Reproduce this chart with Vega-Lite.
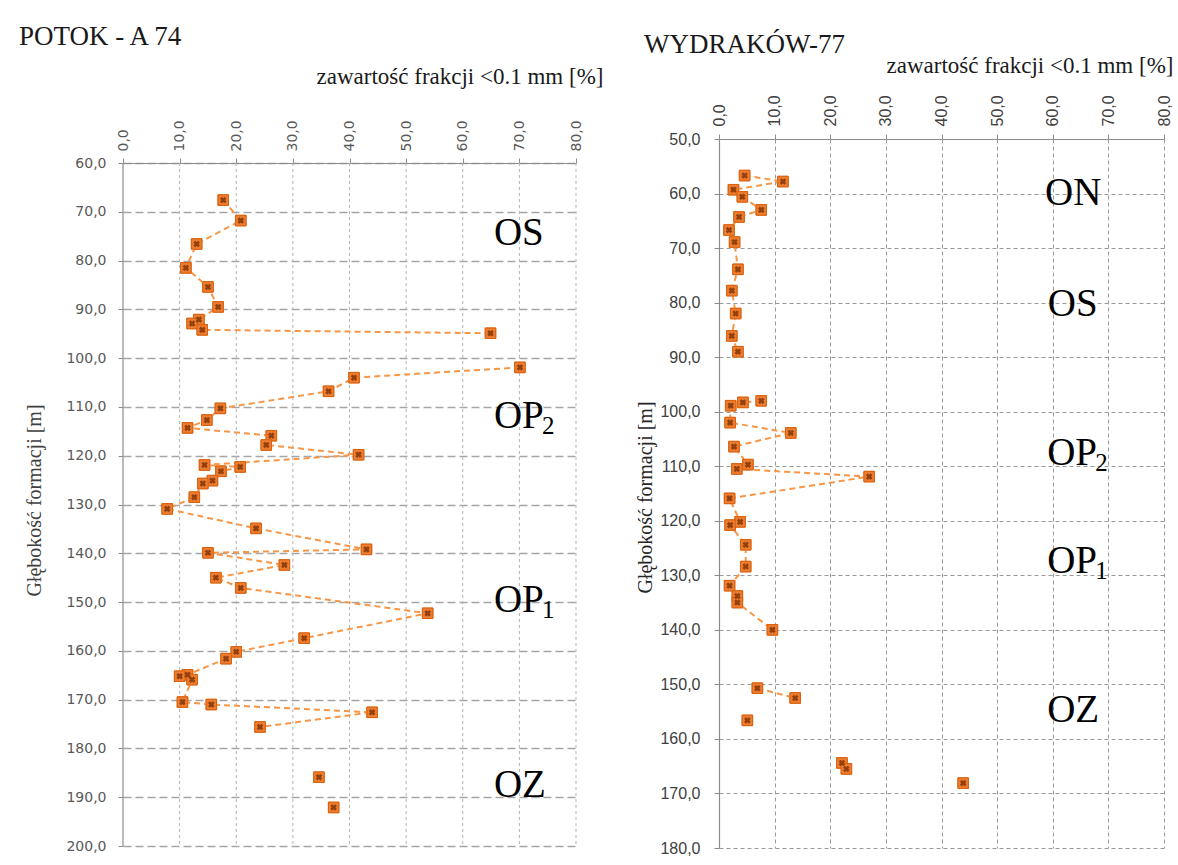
{
  "$schema": "https://vega.github.io/schema/vega-lite/v6.json",
  "background": "white",
  "padding": {"left": 18, "top": 23, "right": 0, "bottom": 0},
  "spacing": 32,
  "config": {
    "view": {"stroke": null},
    "title": {"font": "Liberation Serif", "fontSize": 27, "fontWeight": "normal", "color": "#1a1a1a", "anchor": "start"}
  },
  "datasets": {
    "L": [
      {"x": 17.7, "d": 67.6, "s": "A"}, {"x": 20.8, "d": 71.8, "s": "A"}, {"x": 13.0, "d": 76.6, "s": "A"},
      {"x": 11.1, "d": 81.5, "s": "A"}, {"x": 15.0, "d": 85.4, "s": "A"}, {"x": 16.8, "d": 89.5, "s": "A"},
      {"x": 13.4, "d": 92.1, "s": "A"}, {"x": 12.2, "d": 92.9, "s": "A"}, {"x": 14.0, "d": 94.2, "s": "A"},
      {"x": 64.9, "d": 94.9, "s": "A"},
      {"x": 70.1, "d": 101.9, "s": "B"}, {"x": 40.8, "d": 104.0, "s": "B"}, {"x": 36.3, "d": 106.8, "s": "B"},
      {"x": 17.2, "d": 110.3, "s": "B"}, {"x": 14.8, "d": 112.7, "s": "B"}, {"x": 11.4, "d": 114.3, "s": "B"},
      {"x": 26.2, "d": 115.9, "s": "B"}, {"x": 25.3, "d": 117.8, "s": "B"}, {"x": 41.6, "d": 119.8, "s": "B"},
      {"x": 14.4, "d": 121.9, "s": "B"}, {"x": 20.7, "d": 122.3, "s": "B"}, {"x": 17.3, "d": 123.2, "s": "B"},
      {"x": 15.8, "d": 125.1, "s": "B"}, {"x": 14.1, "d": 125.7, "s": "B"}, {"x": 12.6, "d": 128.5, "s": "B"},
      {"x": 7.8, "d": 130.9, "s": "B"}, {"x": 23.5, "d": 134.9, "s": "B"}, {"x": 43.0, "d": 139.2, "s": "B"},
      {"x": 15.0, "d": 139.9, "s": "B"}, {"x": 28.5, "d": 142.4, "s": "B"}, {"x": 16.4, "d": 145.0, "s": "B"},
      {"x": 20.8, "d": 147.1, "s": "B"}, {"x": 53.8, "d": 152.3, "s": "B"}, {"x": 32.0, "d": 157.4, "s": "B"},
      {"x": 20.0, "d": 160.2, "s": "B"}, {"x": 18.2, "d": 161.6, "s": "B"}, {"x": 11.4, "d": 164.9, "s": "B"},
      {"x": 10.0, "d": 165.2, "s": "B"}, {"x": 12.2, "d": 165.9, "s": "B"}, {"x": 10.5, "d": 170.5, "s": "B"},
      {"x": 15.6, "d": 171.0, "s": "B"}, {"x": 44.0, "d": 172.6, "s": "B"}, {"x": 24.2, "d": 175.6, "s": "B"},
      {"x": 34.6, "d": 185.9, "s": "C"}, {"x": 37.2, "d": 192.1, "s": "D"}
    ],
    "R": [
      {"x": 4.6, "d": 56.7, "s": "A"}, {"x": 11.5, "d": 57.8, "s": "A"}, {"x": 2.6, "d": 59.3, "s": "A"},
      {"x": 4.2, "d": 60.6, "s": "A"}, {"x": 7.6, "d": 63.0, "s": "A"}, {"x": 3.6, "d": 64.3, "s": "A"},
      {"x": 1.8, "d": 66.7, "s": "A"}, {"x": 2.8, "d": 68.9, "s": "A"}, {"x": 3.4, "d": 73.9, "s": "A"},
      {"x": 2.3, "d": 77.8, "s": "A"}, {"x": 3.0, "d": 82.0, "s": "A"}, {"x": 2.3, "d": 86.1, "s": "A"},
      {"x": 3.4, "d": 89.0, "s": "A"},
      {"x": 7.6, "d": 98.0, "s": "B"}, {"x": 4.3, "d": 98.3, "s": "B"}, {"x": 2.1, "d": 98.9, "s": "B"},
      {"x": 2.0, "d": 102.0, "s": "B"}, {"x": 12.9, "d": 103.9, "s": "B"}, {"x": 2.7, "d": 106.4, "s": "B"},
      {"x": 5.2, "d": 109.7, "s": "B"}, {"x": 3.2, "d": 110.5, "s": "B"}, {"x": 27.0, "d": 111.9, "s": "B"},
      {"x": 1.9, "d": 115.9, "s": "B"}, {"x": 3.8, "d": 120.2, "s": "B"}, {"x": 2.0, "d": 120.8, "s": "B"},
      {"x": 4.8, "d": 124.4, "s": "B"}, {"x": 4.8, "d": 128.4, "s": "B"}, {"x": 1.9, "d": 131.9, "s": "B"},
      {"x": 3.3, "d": 133.8, "s": "B"}, {"x": 3.3, "d": 135.0, "s": "B"}, {"x": 9.6, "d": 140.0, "s": "B"},
      {"x": 6.9, "d": 150.7, "s": "C"}, {"x": 13.7, "d": 152.5, "s": "C"},
      {"x": 5.1, "d": 156.6, "s": "D"}, {"x": 22.1, "d": 164.4, "s": "E"}, {"x": 22.9, "d": 165.5, "s": "F"},
      {"x": 43.9, "d": 168.1, "s": "G"}
    ],
    "labL": [
      {"t": "OS", "sub": "", "x": 65.5, "d": 76.8},
      {"t": "OP", "sub": "2", "x": 65.5, "d": 114.3},
      {"t": "OP", "sub": "1", "x": 65.5, "d": 152.0},
      {"t": "OZ", "sub": "", "x": 65.5, "d": 189.9}
    ],
    "labR": [
      {"t": "ON", "sub": "", "x": 58.6, "d": 62.1},
      {"t": "OS", "sub": "", "x": 59.1, "d": 82.5},
      {"t": "OP", "sub": "2", "x": 59.0, "d": 109.8},
      {"t": "OP", "sub": "1", "x": 59.0, "d": 129.6},
      {"t": "OZ", "sub": "", "x": 59.0, "d": 156.9}
    ],
    "gx": [
      {"x": 10}, {"x": 20}, {"x": 30}, {"x": 40}, {"x": 50}, {"x": 60}, {"x": 70}, {"x": 80}
    ]
  },
  "hconcat": [
    {
      "width": 453,
      "height": 707,
      "title": {"text": "POTOK - A 74", "dx": -6, "dy": -4, "offset": 10},
      "layer": [
        {
          "data": {"name": "L"},
          "mark": {"type": "point", "shape": "square", "filled": true, "size": 110, "color": "#ED7D31", "stroke": "#D9620F", "strokeWidth": 1, "opacity": 1},
          "encoding": {
            "x": {"field": "x", "type": "quantitative", "scale": {"domain": [0, 80], "nice": false},
              "axis": {"orient": "top", "offset": -24, "values": [0, 10, 20, 30, 40, 50, 60, 70, 80], "grid": false,
                "labelExpr": "replace(format(datum.value, '.1f'), '.', ',')",
                "labelAngle": -90, "labelFont": "DejaVu Sans", "labelFontSize": 14, "labelColor": "#595959", "labelPadding": 7,
                "domainColor": "#8c8c8c", "domainWidth": 1.2, "tickColor": "#8c8c8c", "tickSize": 5,
                "title": "zawartość frakcji <0.1 mm [%]", "titleFont": "Liberation Serif", "titleFontSize": 23, "titleFontWeight": "normal",
                "titleColor": "#1a1a1a", "titleX": 480, "titleY": -80, "titleAlign": "right", "titleBaseline": "alphabetic", "titleAngle": 0}},
            "y": {"field": "d", "type": "quantitative", "scale": {"domain": [55.08, 200], "reverse": true, "nice": false, "zero": false},
              "axis": {"values": [60, 70, 80, 90, 100, 110, 120, 130, 140, 150, 160, 170, 180, 190, 200],
                "labelExpr": "replace(format(datum.value, '.1f'), '.', ',')",
                "grid": true, "gridColor": "#a6a6a6", "gridDash": [8, 4], "gridWidth": 1.5,
                "domain": false, "tickColor": "#8c8c8c", "tickSize": 5,
                "labelFont": "DejaVu Sans", "labelFontSize": 14, "labelColor": "#595959", "labelPadding": 12,
                "title": "Głębokość formacji [m]", "titleFont": "Liberation Serif", "titleFontSize": 20, "titleFontWeight": "normal",
                "titleColor": "#404040", "titlePadding": 21, "titleY": 361}}
          }
        },
        {
          "data": {"name": "gx"},
          "mark": {"type": "rule", "color": "#b3b3b3", "strokeWidth": 1, "strokeDash": [3, 3]},
          "encoding": {
            "x": {"field": "x", "type": "quantitative", "scale": {"domain": [0, 80], "nice": false}},
            "y": {"datum": 60, "type": "quantitative", "scale": {"domain": [55.08, 200], "reverse": true, "nice": false, "zero": false}},
            "y2": {"datum": 200}
          }
        },
        {
          "data": {"values": [{"x": 0}]},
          "mark": {"type": "rule", "color": "#8c8c8c", "strokeWidth": 1.2},
          "encoding": {
            "x": {"field": "x", "type": "quantitative", "scale": {"domain": [0, 80], "nice": false}},
            "y": {"datum": 60, "type": "quantitative", "scale": {"domain": [55.08, 200], "reverse": true, "nice": false, "zero": false}},
            "y2": {"datum": 200}
          }
        },
        {
          "data": {"name": "L"},
          "mark": {"type": "line", "color": "#F79646", "strokeWidth": 2, "strokeDash": [6, 4]},
          "encoding": {
            "x": {"field": "x", "type": "quantitative", "scale": {"domain": [0, 80], "nice": false}},
            "y": {"field": "d", "type": "quantitative", "scale": {"domain": [55.08, 200], "reverse": true, "nice": false, "zero": false}},
            "detail": {"field": "s"},
            "order": {"field": "d"}
          }
        },
        {
          "data": {"name": "L"},
          "mark": {"type": "point", "shape": "square", "filled": true, "size": 110, "color": "#ED7D31", "stroke": "#D9620F", "strokeWidth": 1, "opacity": 1},
          "encoding": {
            "x": {"field": "x", "type": "quantitative", "scale": {"domain": [0, 80], "nice": false}},
            "y": {"field": "d", "type": "quantitative", "scale": {"domain": [55.08, 200], "reverse": true, "nice": false, "zero": false}}
          }
        },
        {
          "data": {"name": "L"},
          "mark": {"type": "point", "shape": "cross", "angle": 45, "filled": true, "size": 44, "color": "#93400C", "opacity": 1},
          "encoding": {
            "x": {"field": "x", "type": "quantitative", "scale": {"domain": [0, 80], "nice": false}},
            "y": {"field": "d", "type": "quantitative", "scale": {"domain": [55.08, 200], "reverse": true, "nice": false, "zero": false}}
          }
        },
        {
          "data": {"name": "labL"},
          "mark": {"type": "text", "font": "Liberation Serif", "fontSize": 39, "align": "left", "baseline": "alphabetic", "color": "#000000"},
          "encoding": {
            "x": {"field": "x", "type": "quantitative", "scale": {"domain": [0, 80], "nice": false}},
            "y": {"field": "d", "type": "quantitative", "scale": {"domain": [55.08, 200], "reverse": true, "nice": false, "zero": false}},
            "text": {"field": "t"}
          }
        },
        {
          "data": {"name": "labL"},
          "mark": {"type": "text", "font": "Liberation Serif", "fontSize": 25, "align": "left", "baseline": "alphabetic", "color": "#000000", "dx": 48, "dy": 6},
          "encoding": {
            "x": {"field": "x", "type": "quantitative", "scale": {"domain": [0, 80], "nice": false}},
            "y": {"field": "d", "type": "quantitative", "scale": {"domain": [55.08, 200], "reverse": true, "nice": false, "zero": false}},
            "text": {"field": "sub"}
          }
        }
      ]
    },
    {
      "width": 445,
      "height": 709,
      "title": {"text": "WYDRAKÓW-77", "dx": 8, "dy": 9, "offset": 4},
      "layer": [
        {
          "data": {"name": "R"},
          "mark": {"type": "point", "shape": "square", "filled": true, "size": 110, "color": "#ED7D31", "stroke": "#D9620F", "strokeWidth": 1, "opacity": 1},
          "encoding": {
            "x": {"field": "x", "type": "quantitative", "scale": {"domain": [0, 80], "nice": false},
              "axis": {"orient": "top", "values": [0, 10, 20, 30, 40, 50, 60, 70, 80],
                "labelExpr": "replace(format(datum.value, '.1f'), '.', ',')",
                "grid": true, "gridColor": "#9a9a9a", "gridDash": [4, 3], "gridWidth": 1,
                "labelAngle": -90, "labelFont": "Liberation Sans", "labelFontSize": 16, "labelColor": "#404040", "labelPadding": 8,
                "domainColor": "#8c8c8c", "domainWidth": 1.2, "tickColor": "#8c8c8c", "tickSize": 5,
                "title": "zawartość frakcji <0.1 mm [%]", "titleFont": "Liberation Serif", "titleFontSize": 23, "titleFontWeight": "normal",
                "titleColor": "#1a1a1a", "titleX": 454, "titleY": -67, "titleAlign": "right", "titleBaseline": "alphabetic", "titleAngle": 0}},
            "y": {"field": "d", "type": "quantitative", "scale": {"domain": [50, 180], "reverse": true, "nice": false, "zero": false},
              "axis": {"values": [50, 60, 70, 80, 90, 100, 110, 120, 130, 140, 150, 160, 170, 180],
                "labelExpr": "replace(format(datum.value, '.1f'), '.', ',')",
                "grid": true, "gridColor": "#9a9a9a", "gridDash": [4, 3], "gridWidth": 1,
                "domainColor": "#8c8c8c", "domainWidth": 1.2, "tickColor": "#8c8c8c", "tickSize": 5,
                "labelFont": "Liberation Sans", "labelFontSize": 16, "labelColor": "#404040", "labelPadding": 14,
                "title": "Głębokość formacji [m]", "titleFont": "Liberation Serif", "titleFontSize": 20, "titleFontWeight": "normal",
                "titleColor": "#262626", "titlePadding": 4, "titleY": 358}}
          }
        },
        {
          "data": {"name": "R"},
          "mark": {"type": "line", "color": "#F79646", "strokeWidth": 2, "strokeDash": [6, 4]},
          "encoding": {
            "x": {"field": "x", "type": "quantitative", "scale": {"domain": [0, 80], "nice": false}},
            "y": {"field": "d", "type": "quantitative", "scale": {"domain": [50, 180], "reverse": true, "nice": false, "zero": false}},
            "detail": {"field": "s"},
            "order": {"field": "d"}
          }
        },
        {
          "data": {"name": "R"},
          "mark": {"type": "point", "shape": "square", "filled": true, "size": 110, "color": "#ED7D31", "stroke": "#D9620F", "strokeWidth": 1, "opacity": 1},
          "encoding": {
            "x": {"field": "x", "type": "quantitative", "scale": {"domain": [0, 80], "nice": false}},
            "y": {"field": "d", "type": "quantitative", "scale": {"domain": [50, 180], "reverse": true, "nice": false, "zero": false}}
          }
        },
        {
          "data": {"name": "R"},
          "mark": {"type": "point", "shape": "cross", "angle": 45, "filled": true, "size": 44, "color": "#93400C", "opacity": 1},
          "encoding": {
            "x": {"field": "x", "type": "quantitative", "scale": {"domain": [0, 80], "nice": false}},
            "y": {"field": "d", "type": "quantitative", "scale": {"domain": [50, 180], "reverse": true, "nice": false, "zero": false}}
          }
        },
        {
          "data": {"name": "labR"},
          "mark": {"type": "text", "font": "Liberation Serif", "fontSize": 39, "align": "left", "baseline": "alphabetic", "color": "#000000"},
          "encoding": {
            "x": {"field": "x", "type": "quantitative", "scale": {"domain": [0, 80], "nice": false}},
            "y": {"field": "d", "type": "quantitative", "scale": {"domain": [50, 180], "reverse": true, "nice": false, "zero": false}},
            "text": {"field": "t"}
          }
        },
        {
          "data": {"name": "labR"},
          "mark": {"type": "text", "font": "Liberation Serif", "fontSize": 25, "align": "left", "baseline": "alphabetic", "color": "#000000", "dx": 48, "dy": 6},
          "encoding": {
            "x": {"field": "x", "type": "quantitative", "scale": {"domain": [0, 80], "nice": false}},
            "y": {"field": "d", "type": "quantitative", "scale": {"domain": [50, 180], "reverse": true, "nice": false, "zero": false}},
            "text": {"field": "sub"}
          }
        }
      ]
    }
  ]
}
